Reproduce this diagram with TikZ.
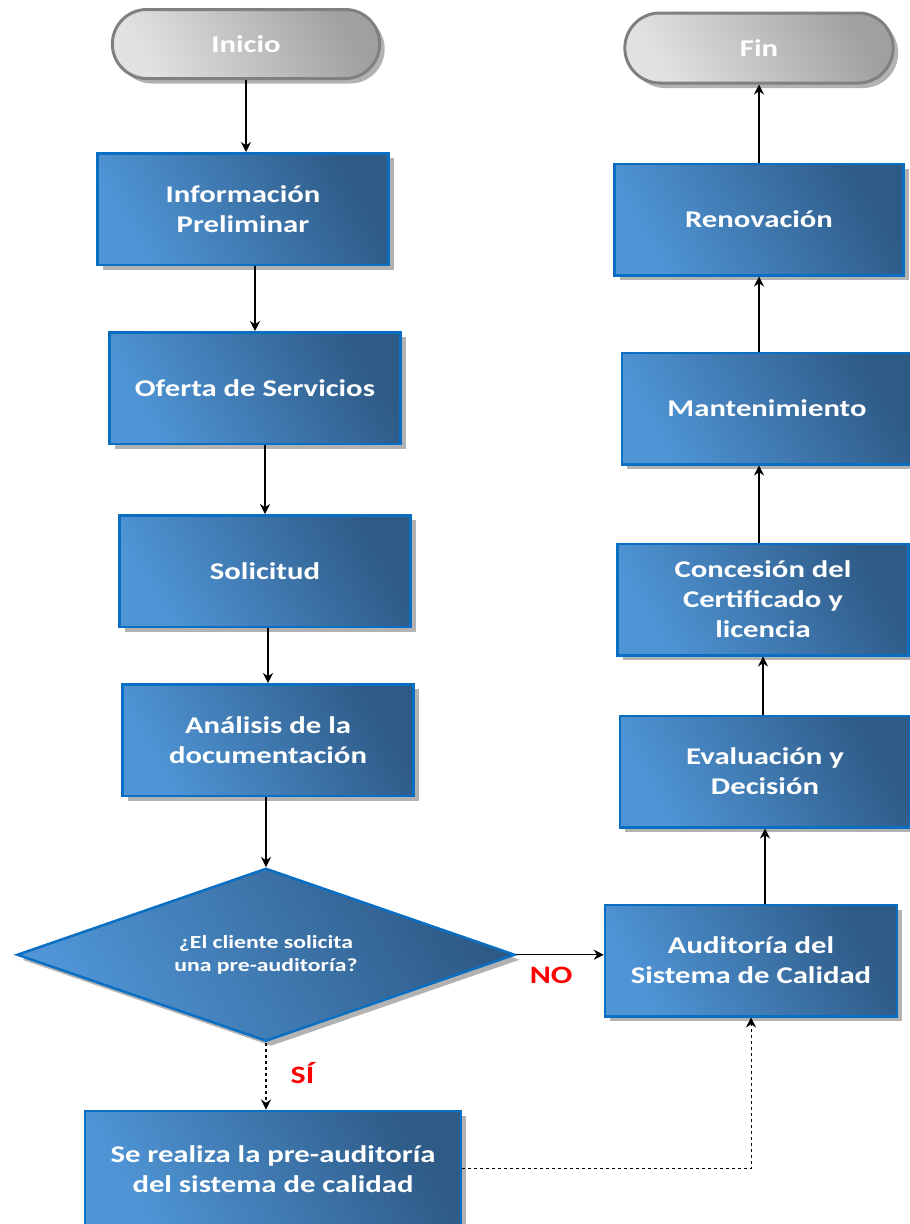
\documentclass[tikz,border=0pt]{standalone}
\usepackage{fontspec}
\setmainfont{Carlito}[FakeStretch=1.28]
\usepackage{tikz}
\usetikzlibrary{positioning, shapes.geometric, shapes.misc, shadows, arrows.meta}

\definecolor{azulclaro}{HTML}{4F95D6}
\definecolor{azuloscuro}{HTML}{2E5A86}
\definecolor{azulborde}{HTML}{0A6FC2}
\definecolor{grisclaro}{HTML}{E2E2E2}
\definecolor{grisoscuro}{HTML}{A0A0A0}
\definecolor{grisborde}{HTML}{808080}

\tikzset{
  sombra/.style={drop shadow={shadow xshift=5pt, shadow yshift=-5pt, fill=black, opacity=0.3}},
  proceso/.style={rectangle, draw=azulborde, line width=2.5pt,
    left color=azulclaro, right color=azuloscuro, shading angle=120,
    minimum width=291pt, minimum height=111.5pt, align=center, text=white,
    font=\fontsize{24}{30}\selectfont\bfseries, sombra},
  terminal/.style={rounded rectangle, draw=grisborde, line width=3pt,
    left color=grisclaro, right color=grisoscuro, shading angle=120,
    minimum width=274pt, minimum height=69pt, text=white,
    font=\fontsize{24}{30}\selectfont\bfseries, sombra},
  decision/.style={diamond, aspect=2.85, draw=azulborde, line width=2.5pt,
    left color=azulclaro, right color=azuloscuro, shading angle=120,
    minimum width=498pt, minimum height=173pt, inner sep=0pt, align=center, text=white,
    font=\fontsize{18.5}{23}\selectfont\bfseries, sombra},
  flecha/.style={->, line width=1.3pt},
  etiqueta/.style={text=red, inner sep=2pt, font=\fontsize{25}{28}\selectfont\bfseries}
}

\begin{document}
\begin{tikzpicture}[>={Stealth[length=10pt, width=10pt]}]
\useasboundingbox (0pt,0pt) rectangle (910pt,-1224pt);
% Columna izquierda
\node[terminal] (inicio) at (246pt,-44pt) {Inicio};
\node[proceso, below=72pt of inicio, xshift=-3pt] (info) {Información\\Preliminar};
\node[proceso, below=65pt of info, xshift=12pt] (oferta) {Oferta de Servicios};
\node[proceso, below=69pt of oferta, xshift=10pt] (solicitud) {Solicitud};
\node[proceso, below=55pt of solicitud, xshift=3pt] (analisis) {Análisis de la\\documentación};
\node[decision, below=70pt of analisis, xshift=-2pt] (pregunta) {¿El cliente solicita\\una pre-auditoría?};
\node[proceso, below=67pt of pregunta, xshift=7pt, minimum width=376pt, minimum height=116pt] (preaud) {Se realiza la pre-auditoría\\del sistema de calidad};
% Columna derecha
\node[terminal, minimum width=275pt, minimum height=70pt] (fin) at (759pt,-48pt) {Fin};
\node[proceso, below=78pt of fin, minimum width=289pt] (renov) {Renovación};
\node[proceso, below=75pt of renov, xshift=8pt, minimum width=290pt] (mant) {Mantenimiento};
\node[proceso, below=77pt of mant, xshift=-4pt] (concesion) {Concesión del\\Certificado y\\licencia};
\node[proceso, below=58pt of concesion, xshift=2pt, minimum width=290pt] (evaluacion) {Evaluación y\\Decisión};
\node[proceso, below=75pt of evaluacion, xshift=-14pt, minimum width=292pt] (auditoria) {Auditoría del\\Sistema de Calidad};
% Conexiones
\path[flecha]
(inicio.south) edge (inicio.south |- info.north)
(info.south -| oferta.north) edge (oferta.north)
(oferta.south -| solicitud.north) edge (solicitud.north)
(solicitud.south -| analisis.north) edge (analisis.north)
(analisis.south -| pregunta.north) edge (pregunta.north)
(pregunta.east) edge node[pos=0.4, below=10pt, etiqueta] {NO} (pregunta.east -| auditoria.west)
(pregunta.south) edge[dashed] node[pos=0.45, right=22pt, etiqueta] {SÍ} (pregunta.south |- preaud.north)
(auditoria.north -| evaluacion.south) edge (evaluacion.south)
(evaluacion.north -| concesion.south) edge (concesion.south)
(concesion.north -| renov.south) edge (mant.south -| renov.south)
(mant.north -| renov.south) edge (renov.south)
(renov.north) edge (renov.north |- fin.south);
\draw[flecha, dashed, line width=1pt] (preaud.east) -| (auditoria.south);
\end{tikzpicture}
\end{document}
